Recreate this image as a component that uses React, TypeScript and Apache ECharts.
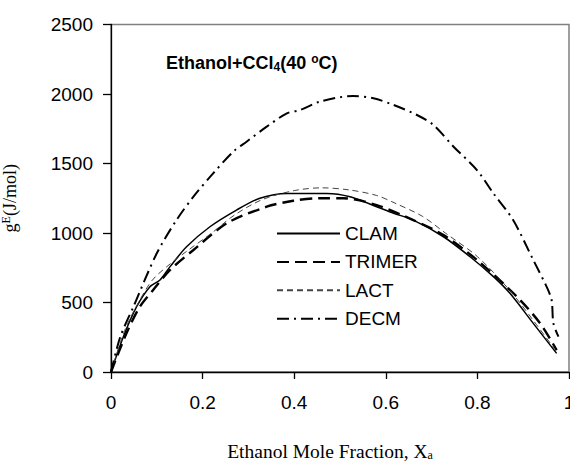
import React, { useEffect, useRef } from "react";
import * as echarts from "echarts";

const seriesNames = ["CLAM", "TRIMER", "LACT", "DECM"];
const xTicks = [0, 0.2, 0.4, 0.6, 0.8, 1];
const yTicks = [0, 500, 1000, 1500, 2000, 2500];

const clamX = [0, 0.027, 0.056, 0.085, 0.107, 0.129, 0.165, 0.216, 0.274, 0.325, 0.384, 0.471, 0.522, 0.58, 0.617, 0.66, 0.726, 0.784, 0.835, 0.871, 0.922, 0.973];
const clamY = [0, 254, 470, 614, 662, 758, 901, 1045, 1165, 1250, 1285, 1285, 1261, 1189, 1142, 1093, 973, 829, 686, 566, 350, 134];

const trimerX = [0, 0.034, 0.063, 0.092, 0.129, 0.18, 0.253, 0.34, 0.398, 0.456, 0.507, 0.58, 0.66, 0.726, 0.799, 0.886, 0.937, 0.973];
const trimerY = [0, 280, 470, 590, 734, 878, 1070, 1189, 1232, 1250, 1250, 1201, 1093, 985, 806, 542, 350, 158];

const lactX = [0, 0.03, 0.06, 0.09, 0.13, 0.17, 0.22, 0.27, 0.33, 0.4, 0.46, 0.52, 0.58, 0.62, 0.68, 0.73, 0.8, 0.87, 0.92, 0.973];
const lactY = [0, 300, 500, 660, 780, 880, 1000, 1130, 1240, 1305, 1325, 1310, 1270, 1215, 1120, 1000, 830, 590, 380, 145];

const decmX = [0, 0.02, 0.049, 0.1, 0.143, 0.18, 0.223, 0.267, 0.296, 0.34, 0.384, 0.413, 0.456, 0.529, 0.573, 0.617, 0.668, 0.704, 0.748, 0.799, 0.835, 0.878, 0.922, 0.951, 0.962, 0.966, 0.977];
const decmY = [0, 250, 470, 854, 1093, 1261, 1429, 1585, 1657, 1765, 1861, 1885, 1945, 1986, 1969, 1921, 1849, 1777, 1621, 1453, 1285, 1093, 806, 614, 518, 350, 254];

const pair = (xs: number[], ys: number[]) => xs.map((x, i) => [x, ys[i]]);

const SANS = "'Liberation Sans', Arial, sans-serif";
const SERIF = "'Liberation Serif', 'Times New Roman', serif";

export default function App() {
  const ref = useRef<HTMLDivElement>(null);
  useEffect(() => {
    if (!ref.current) return;
    const chart = echarts.init(ref.current, undefined, { renderer: "svg" });
    const lineStyles: any[] = [
      { color: "#000", width: 1.5, type: "solid" },
      { color: "#000", width: 2.4, type: [12, 6] },
      { color: "#444", width: 1, type: [6, 4] },
      { color: "#000", width: 2, type: [12, 5, 2, 5] },
    ];
    const datas = [pair(clamX, clamY), pair(trimerX, trimerY), pair(lactX, lactY), pair(decmX, decmY)];
    chart.setOption({
      animation: false,
      backgroundColor: "#fff",
      title: {
        text: "{b|Ethanol+CCl}{sub|4}{b|(40 }{sup|o}{b|C)}",
        left: 161,
        top: 48,
        textStyle: {
          rich: {
            b: { fontFamily: SANS, fontWeight: "bold", fontSize: 18, color: "#000" },
            sub: { fontFamily: SANS, fontWeight: "bold", fontSize: 12, color: "#000", verticalAlign: "bottom", padding: [8, 0, 0, 0] },
            sup: { fontFamily: SANS, fontWeight: "bold", fontSize: 12, color: "#000", verticalAlign: "top", padding: [0, 0, 8, 0] },
          },
        },
      },
      legend: {
        data: seriesNames,
        orient: "vertical",
        left: 276,
        top: 224,
        padding: 0,
        itemWidth: 63,
        itemHeight: 14,
        itemGap: 9.4,
        itemStyle: { opacity: 0 },
        textStyle: { fontFamily: SANS, fontSize: 19, color: "#000" },
      },
      grid: {
        left: 111,
        top: 24.5,
        right: 1,
        bottom: 90,
        show: true,
        borderColor: "#808080",
        borderWidth: 1.5,
        containLabel: false,
        outerBoundsMode: "none",
      },
      xAxis: {
        type: "value",
        min: xTicks[0],
        max: xTicks[xTicks.length - 1],
        interval: 0.2,
        splitLine: { show: false },
        axisLine: { lineStyle: { color: "#000", width: 1.3 } },
        axisTick: { inside: false, length: 7, lineStyle: { color: "#000", width: 1.3 } },
        axisLabel: { fontFamily: SANS, fontSize: 19, color: "#000", margin: 21, formatter: (v: number) => String(+v.toFixed(1)) },
        name: "{n|Ethanol Mole Fraction, X}{s|a}",
        nameLocation: "middle",
        nameGap: 69,
        nameTextStyle: {
          padding: [0, 20, 0, 0],
          rich: {
            n: { fontFamily: SERIF, fontSize: 19.5, color: "#000" },
            s: { fontFamily: SERIF, fontSize: 12, color: "#000", verticalAlign: "bottom", padding: [8, 0, 0, 0] },
          },
        },
      },
      yAxis: {
        type: "value",
        min: yTicks[0],
        max: yTicks[yTicks.length - 1],
        interval: 500,
        splitLine: { show: false },
        axisLine: { show: true, lineStyle: { color: "#000", width: 1.3 } },
        axisTick: { show: true, inside: false, length: 8, lineStyle: { color: "#000", width: 1.3 } },
        axisLabel: { fontFamily: SANS, fontSize: 19, color: "#000", margin: 18, formatter: (v: number) => String(v) },
        name: "{n|g}{s|E}{n|(J/mol)}",
        nameLocation: "middle",
        nameGap: 91,
        nameRotate: 90,
        nameTextStyle: {
          rich: {
            n: { fontFamily: SERIF, fontSize: 18, color: "#000" },
            s: { fontFamily: SERIF, fontSize: 12, color: "#000", verticalAlign: "top", padding: [0, 0, 8, 0] },
          },
        },
      },
      series: seriesNames.map((name, i) => ({
        name,
        type: "line",
        data: datas[i],
        smooth: 0.3,
        symbol: "none",
        showSymbol: false,
        lineStyle: lineStyles[i],
        itemStyle: { color: lineStyles[i].color },
        color: lineStyles[i].color,
      })),
    });
    return () => chart.dispose();
  }, []);
  return <div ref={ref} style={{ width: 570, height: 462, position: "absolute", left: 0, top: 0 }} />;
}
